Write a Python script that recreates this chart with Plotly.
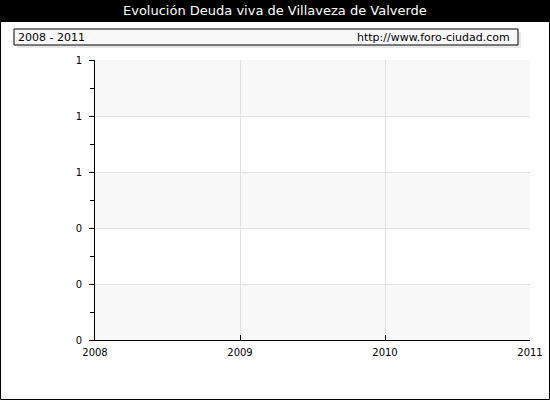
import plotly.graph_objects as go

# datos (no hay valores publicados para el periodo)
years = [2008, 2009, 2010, 2011]
deuda = [None, None, None, None]
y_ticks = [0, 0.2, 0.4, 0.6, 0.8, 1.0]

title = "Evolución Deuda viva de Villaveza de Valverde"
periodo = "2008 - 2011"
web = "http://www.foro-ciudad.com"

W, H = 550, 400
L, R, T, B = 95, 20, 60, 60
pw, ph = W - L - R, H - T - B


def px(x):
    return (x - L) / pw


def py(y):
    return (H - B - y) / ph


fig = go.Figure()
fig.add_trace(go.Scatter(x=years, y=deuda, mode='lines+markers',
                         line=dict(color='#3366cc', width=2), showlegend=False))

shapes = []
# bandas alternas del fondo
for i in range(len(y_ticks) - 1):
    if i % 2 == 0:
        shapes.append(dict(type='rect', xref='paper', yref='y', x0=0, x1=1,
                           y0=y_ticks[i], y1=y_ticks[i + 1],
                           fillcolor='#f8f8f8', line=dict(width=0), layer='below'))

# barra de titulo
shapes.append(dict(type='rect', xref='paper', yref='paper', x0=px(0), x1=px(W),
                   y0=py(22), y1=py(0), fillcolor='black', line=dict(width=0)))
# caja del periodo con sombra
shapes.append(dict(type='rect', xref='paper', yref='paper', x0=px(17), x1=px(521),
                   y0=py(48), y1=py(32), fillcolor='#e8e8e8', line=dict(width=0)))
shapes.append(dict(type='rect', xref='paper', yref='paper', x0=px(14), x1=px(518),
                   y0=py(45), y1=py(29), fillcolor='#f8f8f8',
                   line=dict(color='black', width=1)))
# borde exterior
shapes.append(dict(type='rect', xref='paper', yref='paper', x0=px(0.5), x1=px(549.5),
                   y0=py(399.5), y1=py(0.5), line=dict(color='black', width=1)))

annotations = [
    dict(text=title, x=px(W / 2), y=py(11), xref='paper', yref='paper',
         showarrow=False, xanchor='center', yanchor='middle',
         font=dict(family='DejaVu Sans', size=13, color='white')),
    dict(text=periodo, x=px(16), y=py(37), xref='paper', yref='paper',
         showarrow=False, xanchor='left', yanchor='middle',
         font=dict(family='DejaVu Sans', size=11, color='black')),
    dict(text=web, x=px(512), y=py(37), xref='paper', yref='paper',
         showarrow=False, xanchor='right', yanchor='middle',
         font=dict(family='DejaVu Sans', size=11, color='black')),
]

fig.update_layout(
    width=W, height=H,
    margin=dict(l=L, r=R, t=T, b=B, autoexpand=False),
    paper_bgcolor='white', plot_bgcolor='white',
    font=dict(family='DejaVu Sans', size=10, color='black'),
    shapes=shapes, annotations=annotations,
    xaxis=dict(range=[years[0], years[-1]], tickvals=years, ticks='inside',
               ticklen=5, tickcolor='black', showline=True, linecolor='black',
               linewidth=1, showgrid=True, gridcolor='#e0e0e0', zeroline=False,
               ticklabelstandoff=3, automargin=False, fixedrange=True),
    yaxis=dict(range=[0, 1], tickvals=y_ticks, tickformat='.0f', ticks='outside',
               ticklen=5, tickcolor='black', showline=True, linecolor='black',
               linewidth=1, showgrid=True, gridcolor='#e0e0e0', zeroline=False,
               ticklabelstandoff=5, automargin=False,
               minor=dict(dtick=0.1, ticks='outside', ticklen=4, tickcolor='black',
                          showgrid=False),
               fixedrange=True),
)

fig.write_html("out.html", config={'displayModeBar': False},
               post_script="document.body.style.margin='0';"
                           "document.body.style.overflow='hidden';")
